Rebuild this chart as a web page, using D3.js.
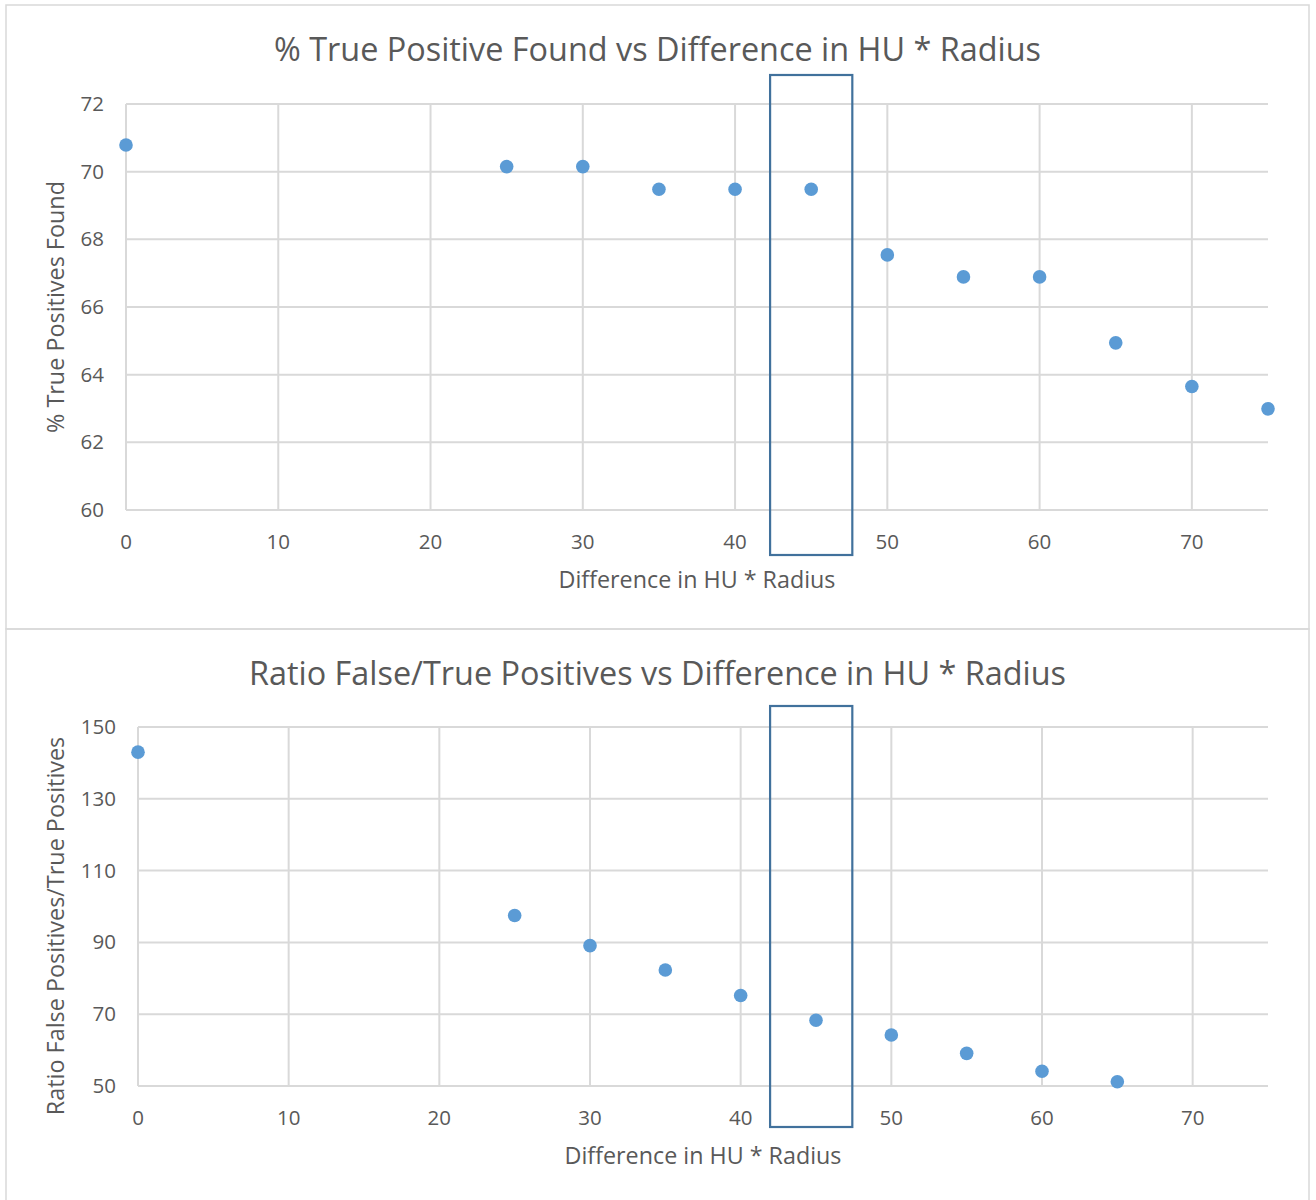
<!DOCTYPE html>
<html><head><meta charset="utf-8">
<script src="https://cdn.jsdelivr.net/npm/d3@7"></script>
<style>
html,body{margin:0;padding:0;background:#fff;}
svg{display:block;}
text{font-family:"Open Sans","Noto Sans",sans-serif;fill:#595959;}
</style></head><body>
<svg id="c" width="1316" height="1200"></svg>
<script>
// ---- data ----
const xValsTop = [0, 25, 30, 35, 40, 45, 50, 55, 60, 65, 70, 75];
const pctTruePositives = [70.79, 70.15, 70.15, 69.48, 69.48, 69.48, 67.54, 66.89, 66.89, 64.94, 63.65, 62.99];
const xValsBottom = [0, 25, 30, 35, 40, 45, 50, 55, 60, 65];
const ratioFalseTrue = [143.0, 97.5, 89.1, 82.3, 75.2, 68.3, 64.2, 59.1, 54.1, 51.2];
const xTicks = [0, 10, 20, 30, 40, 50, 60, 70];
const yTicksTop = [60, 62, 64, 66, 68, 70, 72];
const yTicksBottom = [50, 70, 90, 110, 130, 150];
const titleTop = "% True Positive Found vs Difference in HU * Radius";
const titleBottom = "Ratio False/True Positives vs Difference in HU * Radius";
const xTitle = "Difference in HU * Radius";
const yTitleTop = "% True Positives Found";
const yTitleBottom = "Ratio False Positives/True Positives";
const highlightRange = [42.3, 47.7]; // highlighted x-range (top chart scale)

const svg = d3.select("#c");
const GRID = "#d9d9d9", DOT = "#5b9bd5", BOX = "#41719c";
const FRAME_L = 6, FRAME_R = 1309;

svg.append("rect").attr("x",FRAME_L).attr("y",5).attr("width",FRAME_R-FRAME_L).attr("height",624)
  .attr("fill","none").attr("stroke",GRID).attr("stroke-width",1.5);
svg.append("rect").attr("x",FRAME_L).attr("y",629).attr("width",FRAME_R-FRAME_L).attr("height",640)
  .attr("fill","none").attr("stroke",GRID).attr("stroke-width",1.5);

function chart(cfg){
  const g = svg.append("g");
  const x = d3.scaleLinear().domain([0,75]).range([cfg.left, cfg.right]);
  const y = d3.scaleLinear().domain(cfg.yDomain).range([cfg.bottom, cfg.top]);
  g.append("g").selectAll("line").data(xTicks).join("line")
    .attr("x1",d=>x(d)).attr("x2",d=>x(d)).attr("y1",cfg.top).attr("y2",cfg.bottom)
    .attr("stroke",GRID).attr("stroke-width",2);
  g.append("g").selectAll("line").data(cfg.yTicks).join("line")
    .attr("x1",cfg.left).attr("x2",cfg.right).attr("y1",d=>y(d)).attr("y2",d=>y(d))
    .attr("stroke",GRID).attr("stroke-width",2);
  g.append("g").selectAll("text").data(xTicks).join("text")
    .attr("x",d=>x(d)).attr("y",cfg.bottom+34).attr("text-anchor","middle")
    .attr("dominant-baseline","middle").attr("font-size",20.5).text(d=>d);
  g.append("g").selectAll("text").data(cfg.yTicks).join("text")
    .attr("x",cfg.left-22).attr("y",d=>y(d)+1.5).attr("text-anchor","end")
    .attr("dominant-baseline","middle").attr("font-size",20.5).text(d=>d);
  g.append("g").selectAll("circle").data(cfg.xs.map((v,i)=>[v,cfg.ys[i]])).join("circle")
    .attr("cx",d=>x(d[0])).attr("cy",d=>y(d[1])).attr("r",6.8).attr("fill",DOT);
  g.append("text").attr("x",(FRAME_L+FRAME_R)/2).attr("y",cfg.titleY)
    .attr("text-anchor","middle").attr("dominant-baseline","middle")
    .attr("font-size",32.4).text(cfg.title);
  g.append("text").attr("x",(cfg.left+cfg.right)/2).attr("y",cfg.bottom+72)
    .attr("text-anchor","middle").attr("dominant-baseline","middle")
    .attr("font-size",23.3).text(xTitle);
  g.append("text").attr("transform",`translate(58,${cfg.yTitleY}) rotate(-90)`)
    .attr("text-anchor","middle").attr("dominant-baseline","middle")
    .attr("font-size",23.4).text(cfg.yTitle);
  return {x,y};
}

const chartTop = chart({left:126,right:1268,top:104,bottom:510,yDomain:[60,72],yTicks:yTicksTop,
  xs:xValsTop,ys:pctTruePositives,title:titleTop,titleY:52,yTitle:yTitleTop,yTitleY:307});
const chartBot = chart({left:138,right:1268,top:727,bottom:1086,yDomain:[50,150],yTicks:yTicksBottom,
  xs:xValsBottom,ys:ratioFalseTrue,title:titleBottom,titleY:676,yTitle:yTitleBottom,yTitleY:926});

const bx0 = chartTop.x(highlightRange[0]), bx1 = chartTop.x(highlightRange[1]);
svg.append("rect").attr("x",bx0).attr("y",75).attr("width",bx1-bx0).attr("height",480)
  .attr("fill","none").attr("stroke",BOX).attr("stroke-width",2.2);
svg.append("rect").attr("x",bx0).attr("y",706).attr("width",bx1-bx0).attr("height",421)
  .attr("fill","none").attr("stroke",BOX).attr("stroke-width",2.2);
</script>
</body></html>
